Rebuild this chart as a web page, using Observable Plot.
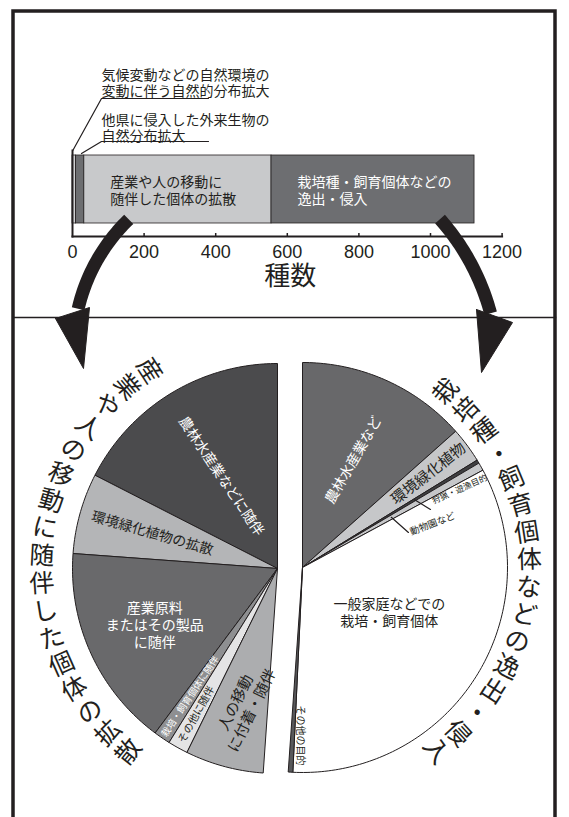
<!DOCTYPE html>
<html><head><meta charset="utf-8">
<script src="https://cdn.jsdelivr.net/npm/d3@7"></script>
<script src="https://cdn.jsdelivr.net/npm/@observablehq/plot@0.6"></script>
<style>
body{margin:0;background:#fff;}
#wrap{position:relative;width:569px;height:817px;overflow:hidden;background:#fff;}
#wrap svg{position:absolute;left:0;top:0;}
</style></head><body><div id="wrap"></div>
<script>
// ---------------- data ----------------
const barCategories = ["気候変動などの自然環境の変動に伴う自然的分布拡大", "他県に侵入した外来生物の自然分布拡大", "産業や人の移動に随伴した個体の拡散", "栽培種・飼育個体などの逸出・侵入"];
const barValues = [10, 23, 523, 567];
const barLabels = ["気候変動などの自然環境の\n変動に伴う自然的分布拡大", "他県に侵入した外来生物の\n自然分布拡大", "産業や人の移動に\n随伴した個体の拡散", "栽培種・飼育個体などの\n逸出・侵入"];
const xTicks = [0, 200, 400, 600, 800, 1000, 1200];
const axisLabel = "種数";

const leftCategories = ["農林水産業などに随伴", "環境緑化植物の拡散", "産業原料またはその製品に随伴", "栽培・飼育個体に随伴", "その他に随伴", "人の移動に付着・随伴"];
const leftValues = [187, 68, 171, 14, 17, 66];
const leftLabels = ["農林水産業などに随伴", "環境緑化植物の拡散", "産業原料\nまたはその製品\nに随伴", "栽培・飼育個体に随伴", "その他に随伴", "人の移動\nに付着・随伴"];

const rightCategories = ["農林水産業など", "環境緑化植物", "狩猟・遊漁目的", "動物園など", "一般家庭などでの栽培・飼育個体", "その他の目的"];
const rightValues = [149, 31, 3, 7, 373, 4];
const rightLabels = ["農林水産業など", "環境緑化植物", "狩猟・遊漁目的", "動物園など", "一般家庭などでの\n栽培・飼育個体", "その他の目的"];

const leftArcTitle = "産業や人の移動に随伴した個体の拡散";
const rightArcTitle = "栽培種・飼育個体などの逸出・侵入";

// ---------------- styles / layout ----------------
const CJK = '"Noto Sans CJK JP", "Noto Sans CJK SC", sans-serif';
const INK = "#231f20";
const barColors = ["#cfd0d2", "#6d6e71", "#c8c9cb", "#6d6e71"];
const barTextColors = [INK, INK, INK, "#ffffff"];
const leftColors = ["#4b4b4d", "#b4b5b7", "#69696b", "#8e8f91", "#e4e4e5", "#acadaf"];
const rightColors = ["#68686a", "#c6c7c9", "#3f3f41", "#c6c7c9", "#ffffff", "#58585a"];

const LC = {x: 277, y: 568}, RC = {x: 302, y: 567}, R = 205;
const leftSweep = 176, rightSweep = 184;
// label layout: radius, rotation, size, color, optional angle override, anchor
const leftLabelLayout = [
  {r: 108, rot: 56, size: 14, fill: "#ffffff"},
  {r: 130, rot: 16, size: 14, fill: INK},
  {r: 135, rot: 0, size: 14, fill: "#ffffff", lh: 1.2},
  {r: 155, rot: -56, size: 9.5, fill: "#ffffff"},
  {r: 167, rot: -61, size: 10.5, fill: INK},
  {r: 142, rot: -64, size: 15, fill: INK, lh: 1.2, a: 166}
];
const rightLabelLayout = [
  {r: 119, rot: -60, size: 14, fill: "#ffffff", a: 25.5},
  {r: 157, rot: -38, size: 15, fill: INK},
  {r: 145.8, rot: -24, size: 8.5, fill: INK, a: 63.1, anchor: "start"},
  {r: 113.5, rot: -21, size: 9.5, fill: INK, a: 72, anchor: "start"},
  {r: 97.5, rot: 0, size: 14, fill: INK, a: 117, lh: 1.25},
  {r: 168, rot: 90, size: 10, fill: INK, a: 180.7}
];

// ---------------- helpers ----------------
function pt(c, side, ang, r) {
  const t = ang * Math.PI / 180;
  return {x: c.x + side * r * Math.sin(t), y: c.y - r * Math.cos(t)};
}
function slices(values, cats, sweep) {
  const tot = d3.sum(values); let c = 0;
  return values.map((v, i) => { const a0 = c / tot * sweep; c += v; return {cat: cats[i], i, a0, a1: c / tot * sweep, mid: (a0 + c / tot * sweep) / 2}; });
}
function slicePts(c, side, s) {
  const pts = [pt(c, side, 0, 0)];
  const n = Math.max(2, Math.ceil(s.a1 - s.a0));
  for (let k = 0; k <= n; k++) pts.push(pt(c, side, s.a0 + (s.a1 - s.a0) * k / n, R));
  pts.push(pt(c, side, 0, 0));
  return pts;
}
function arcPts(cx, cy, r, a0, a1) {
  const n = 40, out = [];
  for (let k = 0; k <= n; k++) { const a = (a0 + (a1 - a0) * k / n) * Math.PI / 180; out.push({x: cx + r * Math.cos(a), y: cy + r * Math.sin(a)}); }
  return out;
}

// ---------------- bar chart ----------------
let cum = 0;
const barData = barValues.map((v, i) => { const d = {cat: barCategories[i], label: barLabels[i], i, x1: cum, x2: cum + v}; cum += v; return d; });

const barPlot = Plot.plot({
  width: 569, height: 317,
  marginLeft: 72, marginRight: 67.4, marginTop: 150, marginBottom: 81,
  x: {domain: [0, 1200], axis: null},
  color: {type: "identity"},
  style: {fontFamily: '"Liberation Sans", Arial, sans-serif', background: "transparent", overflow: "visible"},
  marks: [
    Plot.barX(barData, {x1: "x1", x2: "x2", fill: d => barColors[d.i], insetTop: 5, insetBottom: 13, stroke: INK, strokeWidth: 0.8}),
    Plot.text(barData.slice(2), {x: "x1", text: "label", frameAnchor: "middle", dx: 26, dy: -3, textAnchor: "start", lineAnchor: "middle", lineHeight: 1.2, fontSize: 14, fontFamily: CJK, fill: d => barTextColors[d.i]}),
    Plot.text([barData[0]], {text: "label", frameAnchor: "top-left", dx: 29, dy: -68, textAnchor: "start", lineAnchor: "middle", lineHeight: 1.15, fontSize: 14, fontFamily: CJK, fill: INK}),
    Plot.text([barData[1]], {text: "label", frameAnchor: "top-left", dx: 29, dy: -23, textAnchor: "start", lineAnchor: "middle", lineHeight: 1.15, fontSize: 14, fontFamily: CJK, fill: INK}),
    Plot.ruleX(xTicks.slice(1), {x: d => d, insetTop: 83, stroke: INK, strokeWidth: 1.5}),
    Plot.frame({anchor: "left", stroke: INK, strokeWidth: 2}),
    Plot.frame({anchor: "bottom", stroke: INK, strokeWidth: 2}),
    Plot.axisX({ticks: xTicks, tickSize: 0, tickPadding: 9, fontSize: 18, label: null, fill: INK, fontFamily: '"Liberation Sans", Arial, sans-serif', tickFormat: d => String(d)}),
    Plot.text([axisLabel], {frameAnchor: "bottom", dx: 3, dy: 40, lineAnchor: "middle", fontSize: 26, fontFamily: CJK, fill: INK})
  ]
});

// ---------------- pies, arrows, frame ----------------
const leftSlices = slices(leftValues, leftCategories, leftSweep);
const rightSlices = slices(rightValues, rightCategories, rightSweep);

const pieMarks = [];
leftSlices.forEach(s => pieMarks.push(Plot.line(slicePts(LC, -1, s), {x: "x", y: "y", fill: leftColors[s.i], stroke: INK, strokeWidth: 1, strokeLinejoin: "round"})));
rightSlices.forEach(s => pieMarks.push(Plot.line(slicePts(RC, 1, s), {x: "x", y: "y", fill: rightColors[s.i], stroke: INK, strokeWidth: 1, strokeLinejoin: "round"})));

function labelMarks(sl, labels, layout, c, side) {
  return sl.map(s => {
    const L = layout[s.i];
    const p = pt(c, side, L.a ?? s.mid, L.r);
    return Plot.text([labels[s.i]], {x: () => p.x, y: () => p.y, text: d => d, rotate: L.rot, fontSize: L.size, fill: L.fill, fontFamily: CJK, textAnchor: L.anchor || "middle", lineAnchor: "middle", lineHeight: L.lh || 1});
  });
}
pieMarks.push(...labelMarks(leftSlices, leftLabels, leftLabelLayout, LC, -1));
pieMarks.push(...labelMarks(rightSlices, rightLabels, rightLabelLayout, RC, 1));

// leader lines for the thin right-pie slices
const leaders = [
  [pt(RC, 1, 58.9, 131), pt(RC, 1, 65.6, 140.5)],
  [pt(RC, 1, 60.5, 102), pt(RC, 1, 71.7, 111.6)]
];
leaders.forEach(l => pieMarks.push(Plot.line(l, {x: "x", y: "y", stroke: INK, strokeWidth: 1.2})));

// vertical-writing arc titles
const lChars = Array.from(leftArcTitle), rChars = Array.from(rightArcTitle);
const lA0 = 33, lStep = (141 - 33) / (lChars.length - 1), lR = 236;
const rA0 = 39.3, rStep = (144 - 39.3) / (rChars.length - 1), rR = 227;
pieMarks.push(Plot.text(lChars, {x: (d, i) => pt(LC, -1, lA0 + i * lStep, lR).x, y: (d, i) => pt(LC, -1, lA0 + i * lStep, lR).y, rotate: (d, i) => 90 - (lA0 + i * lStep), text: d => d, fontSize: 25, fill: INK, fontFamily: CJK}));
pieMarks.push(Plot.text(rChars, {x: (d, i) => pt(RC, 1, rA0 + i * rStep, rR).x, y: (d, i) => pt(RC, 1, rA0 + i * rStep, rR).y, rotate: (d, i) => (rA0 + i * rStep) - 90, text: d => d, fontSize: 25, fill: INK, fontFamily: CJK}));

// bar-label leader lines
const barLeaders = [
  [{x: 208, y: 98}, {x: 101, y: 98}, {x: 72.3, y: 150}],
  [{x: 208, y: 141}, {x: 101, y: 141}, {x: 81, y: 153}]
];
barLeaders.forEach(l => pieMarks.push(Plot.line(l, {x: "x", y: "y", stroke: INK, strokeWidth: 1.2})));

// curved arrows
pieMarks.push(Plot.line(arcPts(254, 349, 181, 226, 193), {x: "x", y: "y", stroke: INK, strokeWidth: 13, strokeLinecap: "butt"}));
pieMarks.push(Plot.line([{x: 55, y: 318}, {x: 89, y: 307}, {x: 83, y: 368}, {x: 55, y: 318}], {x: "x", y: "y", fill: INK, stroke: INK, strokeWidth: 1}));
pieMarks.push(Plot.line(arcPts(265, 373, 233, -41.5, -15), {x: "x", y: "y", stroke: INK, strokeWidth: 13, strokeLinecap: "butt"}));
pieMarks.push(Plot.line([{x: 476, y: 309}, {x: 512, y: 322}, {x: 481, y: 372}, {x: 476, y: 309}], {x: "x", y: "y", fill: INK, stroke: INK, strokeWidth: 1}));

// outer frame and divider
pieMarks.push(Plot.frame({insetLeft: 12.5, insetRight: 14.5, insetTop: 10.5, insetBottom: -30, stroke: INK, strokeWidth: 3.5}));
pieMarks.push(Plot.frame({anchor: "top", insetTop: 317, insetLeft: 13, insetRight: 14, stroke: INK, strokeWidth: 1.5}));

const piePlot = Plot.plot({
  width: 569, height: 817,
  margin: 0,
  x: {type: "linear", domain: [0, 569], range: [0, 569], axis: null},
  y: {type: "linear", domain: [0, 817], range: [0, 817], axis: null},
  style: {fontFamily: CJK, background: "transparent"},
  marks: pieMarks
});

const wrap = document.getElementById("wrap");
wrap.appendChild(barPlot);
wrap.appendChild(piePlot);
</script></body></html>
